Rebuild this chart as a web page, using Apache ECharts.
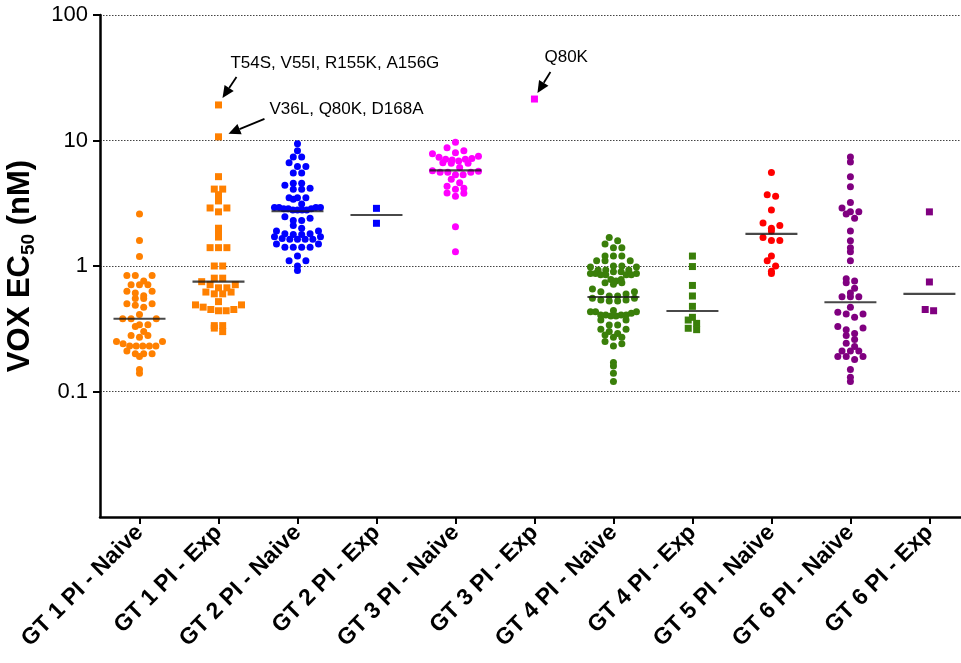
<!DOCTYPE html>
<html><head><meta charset="utf-8">
<script src="https://cdn.jsdelivr.net/npm/echarts@6/dist/echarts.min.js"></script>
<style>html,body{margin:0;padding:0;background:#fff}#c{width:961px;height:663px}</style>
</head><body><div id="c"></div>
<script>
const categories = ['GT 1 PI - Naive','GT 1 PI - Exp','GT 2 PI - Naive','GT 2 PI - Exp','GT 3 PI - Naive','GT 3 PI - Exp','GT 4 PI - Naive','GT 4 PI - Exp','GT 5 PI - Naive','GT 6 PI - Naive','GT 6 PI - Exp'];
const yTickValues = [0.1, 1, 10, 100];

const gt1Naive = [2.6,1.6,1.19,0.84,0.84,0.84,0.76,0.71,0.71,0.71,0.63,0.63,0.61,0.58,0.55,0.55,0.50,0.50,0.486,0.47,0.41,0.38,0.38,0.38,0.34,0.34,0.33,0.30,0.28,0.28,0.27,0.25,0.25,0.24,0.23,0.23,0.23,0.23,0.23,0.21,0.20,0.20,0.20,0.19,0.15,0.14];
const gt1Exp = [19.2,10.7,5.15,4.1,4.1,3.7,3.3,2.9,2.9,2.7,2.0,1.8,1.7,1.4,1.4,1.4,1.0,1.0,0.80,0.80,0.75,0.71,0.71,0.67,0.67,0.62,0.62,0.60,0.60,0.52,0.49,0.49,0.47,0.45,0.45,0.44,0.44,0.335,0.335,0.32,0.30];
const gt2Naive = [9.4,8.3,7.4,7.4,6.65,6.2,6.2,5.5,5.5,4.56,4.56,4.4,4.16,4.08,4.08,3.5,3.5,3.5,3.4,3.12,2.93,2.93,2.93,2.93,2.86,2.86,2.86,2.79,2.79,2.79,2.79,2.47,2.4,2.3,2.3,2.1,2.0,1.9,1.9,1.81,1.81,1.78,1.78,1.71,1.71,1.66,1.63,1.63,1.63,1.63,1.5,1.5,1.41,1.41,1.41,1.41,1.2,1.1,1.1,1.0,0.92];
const gt2Exp = [2.88,2.19];
const gt3Naive = [9.7,8.77,8.3,8.0,7.85,7.5,7.35,7.2,7.08,7.08,7.0,6.87,6.66,6.58,6.58,6.1,5.75,5.68,5.58,5.58,5.58,5.34,5.34,4.91,4.61,4.32,4.16,4.08,3.82,3.8,3.59,2.05,1.3];
const gt3Exp = [21.4];
const gt4Naive = [1.69,1.59,1.5,1.4,1.4,1.2,1.2,1.2,1.1,1.1,1.1,1.0,1.0,0.98,0.98,0.93,0.93,0.93,0.90,0.90,0.87,0.87,0.87,0.85,0.85,0.85,0.85,0.78,0.78,0.76,0.737,0.737,0.715,0.655,0.624,0.624,0.598,0.577,0.577,0.553,0.553,0.536,0.536,0.526,0.526,0.443,0.432,0.432,0.432,0.42,0.407,0.407,0.407,0.407,0.40,0.40,0.371,0.371,0.339,0.339,0.313,0.313,0.30,0.29,0.282,0.27,0.27,0.25,0.24,0.23,0.17,0.16,0.14,0.12];
const gt4Exp = [1.2,0.99,0.70,0.577,0.477,0.39,0.371,0.349,0.319,0.311];
const gt5Naive = [5.57,3.7,3.59,2.79,2.2,2.1,2.0,1.9,1.69,1.6,1.6,1.2,1.1,1.0,0.91,0.87];
const gt6Naive = [7.4,6.74,5.15,4.29,3.2,2.9,2.71,2.71,2.6,2.4,1.9,1.59,1.4,1.3,1.1,0.79,0.76,0.737,0.664,0.61,0.57,0.57,0.57,0.47,0.428,0.415,0.415,0.39,0.329,0.32,0.31,0.29,0.28,0.26,0.242,0.228,0.21,0.21,0.21,0.19,0.19,0.19,0.18,0.15,0.13,0.12];
const gt6Exp = [2.7,0.746,0.45,0.44];
const medians = [0.38,0.75,2.73,2.55,5.79,null,0.566,0.438,1.8,0.514,0.6];

const groups = [gt1Naive,gt1Exp,gt2Naive,gt2Exp,gt3Naive,gt3Exp,gt4Naive,gt4Exp,gt5Naive,gt6Naive,gt6Exp];
const colors = ['#FF8000','#FF8000','#0000FF','#0000FF','#FF00FF','#FF00FF','#3A7F0A','#3A7F0A','#FF0000','#800080','#800080'];
const symbols = ['circle','rect','circle','rect','circle','rect','circle','rect','circle','circle','rect'];

const FONT = 'Liberation Sans, Arial, Helvetica, sans-serif';
const chart = echarts.init(document.getElementById('c'), null, {renderer:'canvas'});

const base = {
  animation:false,
  backgroundColor:'#fff',
  grid:{left:100,right:0,top:15,bottom:146,containLabel:false,outerBoundsMode:'none'},
  xAxis:{type:'value',min:-0.5,max:10.4,
    axisLine:{show:true,onZero:false,lineStyle:{color:'#000',width:2.5}},
    axisTick:{show:true,length:7,lineStyle:{color:'#000',width:2},customValues:categories.map((c,i)=>i)},
    axisLabel:{show:true,rotate:45,margin:12,color:'#000',fontFamily:FONT,fontWeight:'bold',fontSize:23,
      customValues:categories.map((c,i)=>i),formatter:v=>categories[Math.round(v)]},
    splitLine:{show:false}},
  yAxis:{type:'log',logBase:10,min:0.01,max:100,
    name:'{m|VOX EC}{s|50}{m| (nM)}',nameLocation:'middle',nameRotate:90,nameGap:62,
    nameTextStyle:{rich:{m:{fontFamily:FONT,fontWeight:'bold',fontSize:31,color:'#000',lineHeight:36},
                         s:{fontFamily:FONT,fontWeight:'bold',fontSize:19,color:'#000',lineHeight:14,verticalAlign:'bottom'}}},
    axisLine:{show:true,onZero:false,lineStyle:{color:'#000',width:2.5}},
    axisTick:{show:true,length:7,lineStyle:{color:'#000',width:2},customValues:yTickValues},
    axisLabel:{show:true,margin:12,color:'#000',fontFamily:FONT,fontSize:22,customValues:yTickValues,
      formatter:v=>(v<0.05?'':String(+v.toPrecision(3)))},
    splitLine:{show:true,lineStyle:{color:'#444',width:1,type:[1.5,1.5]}}},
  series:[{type:'scatter',data:[]}]
};
chart.setOption(base);

const p0 = chart.convertToPixel({gridIndex:0},[0,1]);
const p1 = chart.convertToPixel({gridIndex:0},[1,10]);
const pxPerUnit = p1[0]-p0[0];
const pxPerDecade = p0[1]-p1[1];
const ROW_H = 7.5, STEP_MAX = 8.4, ROW_W = 46;

// Prism-like column scatter: points binned into rows, each row spread symmetrically, lowest value centred
function swarm(values){
  const pts = values.map(v=>({v:v,y:Math.log10(v)*pxPerDecade,x:0}));
  const bins = {};
  pts.forEach(p=>{const k=Math.floor(p.y/ROW_H);(bins[k]=bins[k]||[]).push(p);});
  Object.keys(bins).forEach(k=>{
    const row = bins[k].sort((a,b)=>a.y-b.y);
    const n = row.length;
    const s = n>1?Math.min(STEP_MAX,ROW_W/(n-1)):0;
    const offs = [];
    for(let j=0;j<n;j++)offs.push((j-(n-1)/2)*s);
    offs.sort((a,b)=>Math.abs(a)-Math.abs(b)||b-a);
    row.forEach((p,j)=>{p.x=offs[j];});
  });
  return pts;
}

const series = [];
const swarms = groups.map(swarm);
swarms.forEach((pts,i)=>{
  series.push({type:'scatter',name:categories[i],symbol:symbols[i],symbolSize:7,
    itemStyle:{color:colors[i],opacity:1},
    data:pts.map(p=>[i+p.x/pxPerUnit,p.v]),z:2});
});
series.push({type:'scatter',name:'median',symbol:'rect',symbolSize:[52,2.2],
  itemStyle:{color:'#1a1a1a'},z:3,
  data:medians.map((m,i)=>m==null?null:[i,m]).filter(d=>d)});

chart.setOption({series:series},{replaceMerge:['series']});

function rankedPoint(gi,rank){
  const pts = swarms[gi].slice().sort((a,b)=>b.v-a.v);
  const t = pts[rank];
  return chart.convertToPixel({gridIndex:0},[gi+t.x/pxPerUnit,t.v]);
}
function arrow(tail,tip){
  const dx=tip[0]-tail[0], dy=tip[1]-tail[1];
  const L=Math.sqrt(dx*dx+dy*dy), ux=dx/L, uy=dy/L;
  const hl=12, hw=5.5;
  const bx=tip[0]-ux*hl, by=tip[1]-uy*hl;
  return [
    {type:'line',shape:{x1:tail[0],y1:tail[1],x2:bx,y2:by},style:{stroke:'#000',lineWidth:1.8}},
    {type:'polygon',shape:{points:[[tip[0],tip[1]],[bx-uy*hw,by+ux*hw],[bx+uy*hw,by-ux*hw]]},style:{fill:'#000'}}
  ];
}
function label(text,x,y){
  return {type:'text',style:{text:text,x:x,y:y,fill:'#000',font:'17px '+FONT,textVerticalAlign:'middle',textAlign:'left'}};
}
const a = rankedPoint(1,0), b = rankedPoint(1,1), c = rankedPoint(5,0);
const graphics = [].concat(
  arrow([a[0]+18,a[1]-28],[a[0]+4,a[1]-7]),
  arrow([b[0]+46,b[1]-18],[b[0]+10,b[1]-3]),
  arrow([c[0]+16,c[1]-27],[c[0]+3,c[1]-6]),
  [label('T54S, V55I, R155K, A156G',a[0]+12,a[1]-42),
   label('V36L, Q80K, D168A',b[0]+51,b[1]-27),
   label('Q80K',c[0]+10,c[1]-42)]
);
chart.setOption({graphic:graphics});
</script></body></html>
